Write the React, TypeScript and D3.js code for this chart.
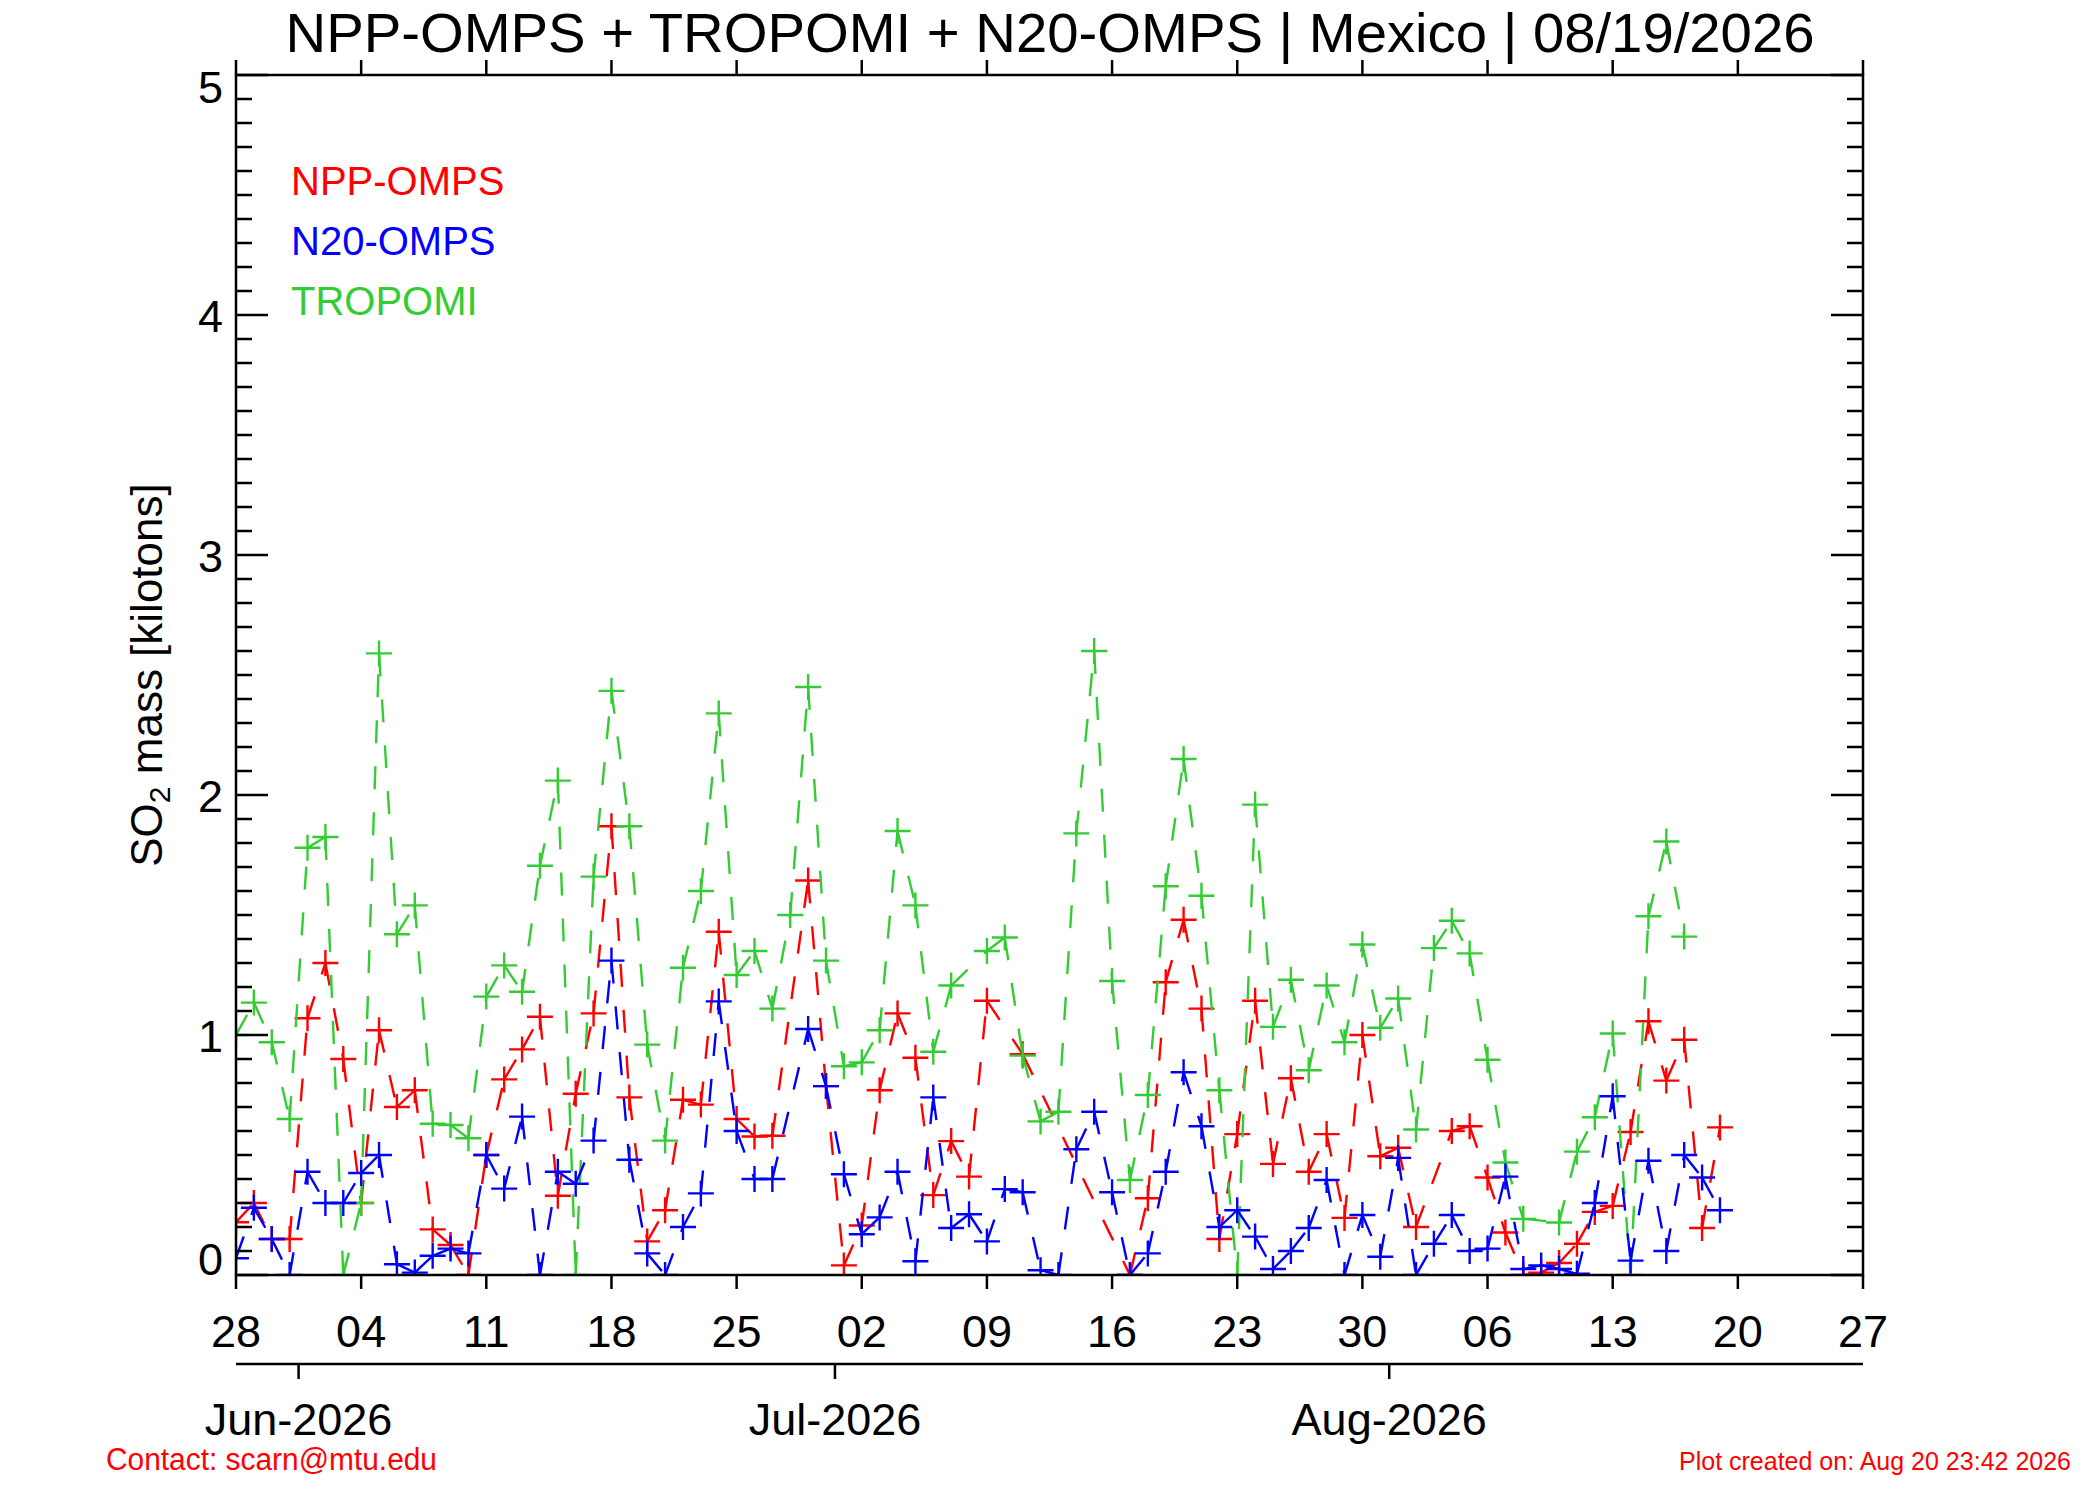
import * as d3 from 'd3';

// daily SO2 mass [kt] starting 2026-05-28, null = no retrieval that day
const START = new Date(2026, 4, 28);
const END = new Date(2026, 7, 27);

const nppOmps = [
  0.22, 0.30, 0.15, 0.15, 1.07, 1.30, 0.90, 0.30, 1.02, 0.70,
  0.77, 0.19, 0.125, 0.0, 0.50, 0.815, 0.94, 1.076, 0.33, 0.755,
  1.09, 1.87, 0.74, 0.14, 0.27, 0.73, 0.71, 1.43, 0.65, 0.577,
  0.58, null, 1.644, 0.787, 0.04, 0.206, 0.77, 1.09, 0.905, 0.333,
  0.558, 0.41, 1.143, null, 0.92, null, null, null, null, null,
  0.0, 0.32, 1.22, 1.48, 1.11, 0.15, 0.587, 1.143, 0.463, 0.82,
  0.43, 0.587, 0.238, 1.0, 0.495, 0.53, 0.2, null, 0.6, 0.62,
  0.406, 0.177, 0.0, 0.01, 0.05, 0.13, 0.263, 0.288, 0.596, 1.057,
  0.81, 0.98, 0.196, 0.615,
];

const n20Omps = [
  0.07, 0.28, 0.15, 0.0, 0.43, 0.30, 0.30, 0.425, 0.50, 0.045,
  0.01, 0.08, 0.11, 0.09, 0.50, 0.36, 0.66, 0.0, 0.43, 0.38,
  0.56, 1.31, 0.48, 0.09, 0.0, 0.2, 0.34, 1.14, 0.6, 0.4,
  0.4, null, 1.025, 0.787, 0.42, 0.17, 0.24, 0.43, 0.057, 0.74,
  0.196, 0.253, 0.14, 0.358, 0.345, 0.02, 0.0, 0.524, 0.68, 0.345,
  0.0, 0.09, 0.43, 0.845, 0.62, 0.2, 0.27, 0.16, 0.025, 0.1,
  0.196, 0.396, 0.0, 0.25, 0.076, 0.488, 0.0, 0.13, 0.25, 0.1,
  0.11, 0.41, 0.025, 0.04, 0.025, 0.005, 0.30, 0.745, 0.06, 0.476,
  0.1, 0.5, 0.406, 0.27,
];

const tropomi = [
  1.0, 1.135, 0.97, 0.65, 1.78, 1.825, 0.0, 0.30, 2.59, 1.42,
  1.54, 0.63, 0.625, 0.57, 1.16, 1.29, 1.18, 1.705, 2.06, 0.0,
  1.66, 2.434, 1.87, 0.96, 0.56, 1.28, 1.60, 2.34, 1.25, 1.35,
  1.11, 1.50, 2.45, 1.31, 0.87, 0.886, 1.02, 1.85, 1.54, 0.93,
  1.206, null, 1.35, 1.406, 0.914, 0.64, 0.68, 1.84, 2.60, 1.225,
  0.396, 0.75, 1.62, 2.15, 1.58, 0.77, 0.0, 1.96, 1.034, 1.23,
  0.853, 1.206, 0.97, 1.377, 1.03, 1.152, 0.606, 1.362, 1.476, 1.34,
  0.897, 0.469, 0.234, null, 0.219, 0.514, 0.657, 1.006, 0.0, 1.495,
  1.806, 1.41, null, null,
];

const yTicks = [0, 1, 2, 3, 4, 5];
const monthStarts = [new Date(2026, 5, 1), new Date(2026, 6, 1), new Date(2026, 7, 1)];

const series = [
  { name: 'NPP-OMPS', color: '#ff0000', values: nppOmps },
  { name: 'TROPOMI', color: '#33cc33', values: tropomi },
  { name: 'N20-OMPS', color: '#0000ff', values: n20Omps },
];
const legendOrder = ['NPP-OMPS', 'N20-OMPS', 'TROPOMI'];

const W = 2100;
const H = 1500;
const L = 236;
const R = 1863;
const T = 75;
const B = 1275;
const FONT = '"Liberation Sans", Arial, Helvetica, sans-serif';

export default function App() {
  const x = d3.scaleTime().domain([START, END]).range([L, R]);
  const y = d3.scaleLinear().domain([0, 5]).range([B, T]);

  const weekTicks = d3.range(0, 92, 7).map(k => d3.timeDay.offset(START, k));
  const minorTicks = d3.range(0, 50).map(i => i / 10).filter(v => !yTicks.includes(v));
  const fmtDay = d3.timeFormat('%d');
  const fmtMonth = d3.timeFormat('%b-%Y');

  const pts = (vals: (number | null)[]) =>
    vals
      .map((v, i) => (v === null ? null : [x(d3.timeDay.offset(START, i)), y(v)]))
      .filter(p => p !== null) as [number, number][];

  const MONTH_Y = 1364;

  return (
    <div style={{ position: 'absolute', left: 0, top: 0 }}>
      <svg width={W} height={H} style={{ display: 'block', background: '#fff' }} fontFamily={FONT}>
        <defs>
          <clipPath id="plotClip">
            <rect x={L} y={T} width={R - L} height={B - T} />
          </clipPath>
        </defs>

        <text x={1050} y={52} fontSize={56} textAnchor="middle" textLength={1529} lengthAdjust="spacingAndGlyphs">
          NPP-OMPS + TROPOMI + N20-OMPS | Mexico | 08/19/2026
        </text>

        {/* data: each segment restarts the dash pattern, like the original plot */}
        <g clipPath="url(#plotClip)">
          {series.map(s => {
            const p = pts(s.values);
            return (
              <g key={s.name} stroke={s.color} strokeWidth={2.4} fill="none">
                {p.slice(1).map((q, i) => (
                  <line key={'l' + i} x1={p[i][0]} y1={p[i][1]} x2={q[0]} y2={q[1]} strokeDasharray="23 23" />
                ))}
                {p.map((q, i) => (
                  <path key={'m' + i} d={`M${q[0] - 13},${q[1]}H${q[0] + 13}M${q[0]},${q[1] - 13}V${q[1] + 13}`} />
                ))}
              </g>
            );
          })}
        </g>

        {/* frame */}
        <g stroke="#000" strokeWidth={2.5} fill="none">
          <rect x={L} y={T} width={R - L} height={B - T} />
          {yTicks.map(v => (
            <g key={'y' + v}>
              <line x1={L} x2={L + 32} y1={y(v)} y2={y(v)} />
              <line x1={R} x2={R - 32} y1={y(v)} y2={y(v)} />
            </g>
          ))}
          {minorTicks.map(v => (
            <g key={'m' + v}>
              <line x1={L} x2={L + 16} y1={y(v)} y2={y(v)} />
              <line x1={R} x2={R - 16} y1={y(v)} y2={y(v)} />
            </g>
          ))}
          {weekTicks.map(d => (
            <g key={'w' + d.getTime()}>
              <line x1={x(d)} x2={x(d)} y1={B} y2={B + 14} />
              <line x1={x(d)} x2={x(d)} y1={T} y2={T - 15} />
            </g>
          ))}
          <line x1={L} x2={R} y1={MONTH_Y} y2={MONTH_Y} />
          {monthStarts.map(d => {
            const xm = x(d3.timeHour.offset(d, -12));
            return <line key={'mt' + d.getTime()} x1={xm} x2={xm} y1={MONTH_Y} y2={MONTH_Y + 15} />;
          })}
        </g>

        {/* y labels */}
        {yTicks.map(v => {
          const base = v === 0 ? B : v === 5 ? T + 28 : y(v) + 16.5;
          return (
            <text key={'yl' + v} x={223} y={base} fontSize={45} textAnchor="end">
              {v}
            </text>
          );
        })}

        {weekTicks.map(d => (
          <text key={'wl' + d.getTime()} x={x(d)} y={1347} fontSize={45} textAnchor="middle">
            {fmtDay(d)}
          </text>
        ))}

        {monthStarts.map(d => (
          <text key={'ml' + d.getTime()} x={x(d3.timeHour.offset(d, -12))} y={1435} fontSize={45} textAnchor="middle">
            {fmtMonth(d)}
          </text>
        ))}

        <text transform="translate(162,675) rotate(-90)" fontSize={44} textAnchor="middle">
          SO<tspan fontSize={30} dy={8}>2</tspan>
          <tspan dy={-8}> mass [kilotons]</tspan>
        </text>

        {legendOrder.map((name, i) => {
          const s = series.find(d => d.name === name)!;
          return (
            <text key={name} x={291} y={195 + i * 60} fontSize={40} fill={s.color}>
              {name}
            </text>
          );
        })}

        <text x={106} y={1470} fontSize={31} fill="#ff0000" textLength={331} lengthAdjust="spacingAndGlyphs">
          Contact: scarn@mtu.edu
        </text>
        <text x={2071} y={1470} fontSize={25} fill="#ff0000" textAnchor="end">
          Plot created on: Aug 20 23:42 2026
        </text>
      </svg>
    </div>
  );
}
